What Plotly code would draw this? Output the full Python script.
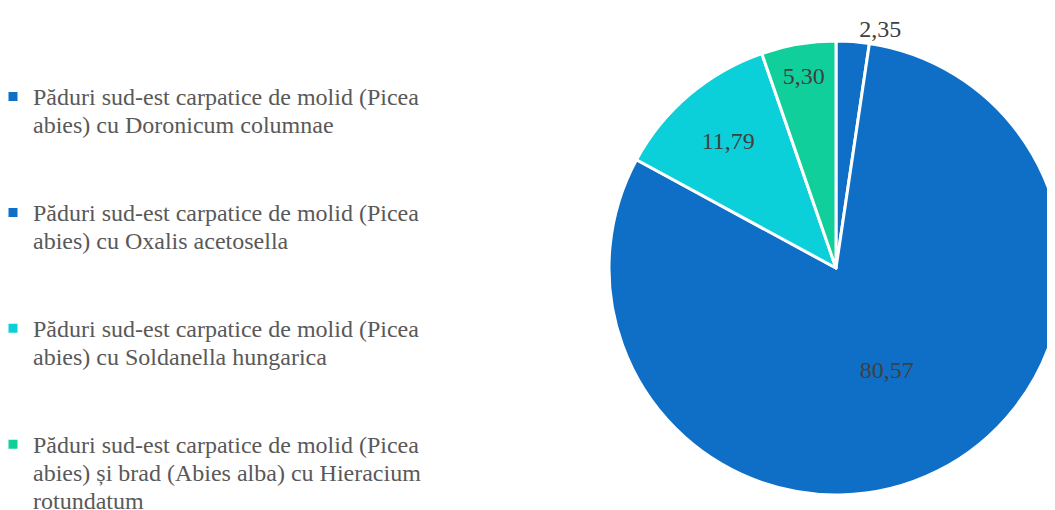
import plotly.graph_objects as go

label_lines = [
    ["Păduri sud-est carpatice de molid (Picea", "abies) cu Doronicum columnae"],
    ["Păduri sud-est carpatice de molid (Picea", "abies) cu Oxalis acetosella"],
    ["Păduri sud-est carpatice de molid (Picea", "abies) cu Soldanella hungarica"],
    ["Păduri sud-est carpatice de molid (Picea", "abies) și brad (Abies alba) cu Hieracium", "rotundatum"],
]
values = [2.35, 80.57, 11.79, 5.30]
value_text = ["2,35", "80,57", "11,79", "5,30"]
colors = ["#0F6FC6", "#0F6FC6", "#0BD0D9", "#10CF9B"]


def legend_label(lines):
    parts = ['<span style="font-size:24px">%s</span>' % ln for ln in lines]
    # pad two-line entries with blank lines so entries are evenly spread
    while len(parts) < 4 and len(lines) < 3:
        parts.append(" ")
    return "<br>".join(parts)


labels = [legend_label(l) for l in label_lines]

W, H = 1055, 510
# page body has an 8px offset; figure coordinates below are relative to the figure
cx, cy, r = 828, 260, 227

fig = go.Figure(go.Pie(
    labels=labels,
    values=values,
    text=value_text,
    textinfo="text",
    textposition=["outside", "inside", "inside", "inside"],
    insidetextorientation="horizontal",
    sort=False,
    direction="clockwise",
    rotation=0,
    marker=dict(colors=colors, line=dict(color="white", width=3)),
    textfont=dict(family="Liberation Serif", size=24, color="#404040"),
    outsidetextfont=dict(family="Liberation Serif", size=24, color="#404040"),
    insidetextfont=dict(family="Liberation Serif", size=24, color="#404040"),
    domain=dict(x=[(cx - r) / W, min(1.0, (cx + r) / W)], y=[(H - cy - r) / H, (H - cy + r) / H]),
    hoverinfo="label+value",
))

fig.update_layout(
    width=W, height=H,
    margin=dict(l=0, r=0, t=0, b=0, autoexpand=False),
    paper_bgcolor="white",
    plot_bgcolor="white",
    showlegend=True,
    legend=dict(
        x=0, y=1 - 68 / H, xanchor="left", yanchor="top",
        valign="top",
        indentation=-15,
        font=dict(family="Liberation Serif", size=21.7, color="#595959"),
        bgcolor="rgba(0,0,0,0)",
    ),
)

fig.write_html(
    "out.html",
    post_script="document.documentElement.style.overflow='hidden';document.body.style.overflow='hidden';",
)
